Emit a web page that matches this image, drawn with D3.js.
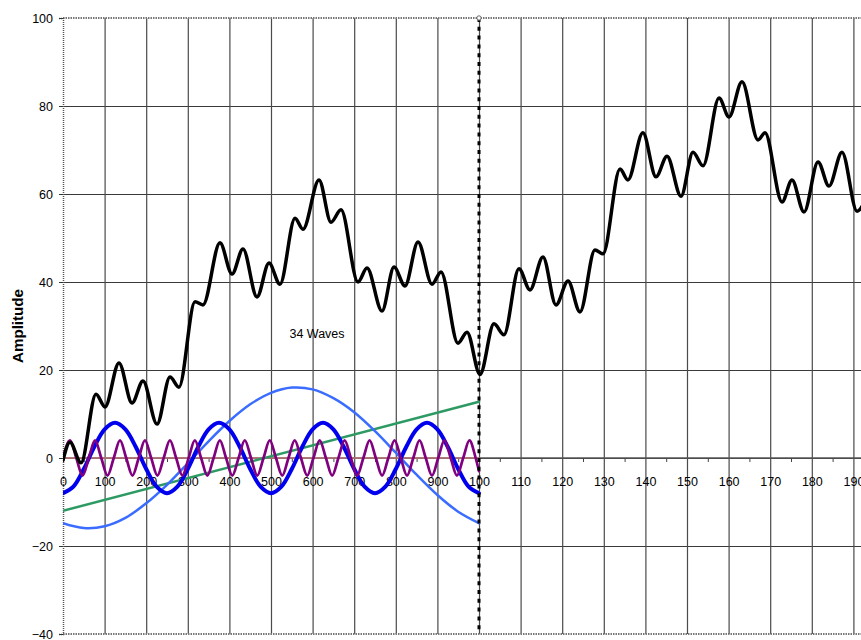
<!DOCTYPE html>
<html>
<head>
<meta charset="utf-8">
<script src="https://cdn.jsdelivr.net/npm/d3@7"></script>
<style>
  html, body { margin: 0; padding: 0; background: #fff; }
  svg { display: block; font-family: "Liberation Sans", Arial, sans-serif; }
</style>
</head>
<body>
<svg id="chart" width="861" height="640"></svg>
<script>
// ---- data ----
// x positions are in "slot" units: 0..1000 = first part (0..1000), 1000..1900 = labels 100..190
const xTickValues = [0,100,200,300,400,500,600,700,800,900,1000,1100,1200,1300,1400,1500,1600,1700,1800,1900];
const xTickLabels = ["0","100","200","300","400","500","600","700","800","900","100","110","120","130","140","150","160","170","180","190"];
const xMinorTicks = [50,150,250,350,450,550,650,750,850,950,1050,1150,1250,1350,1450,1550,1650,1750,1850,1950];
const yTickValues = [-40,-20,0,20,40,60,80,100];

// 34-wave sum (black), extrema
const sumX = [0,16.8,43.3,79.3,101,134.6,165.9,192.3,226,257.2,278.8,317.3,336.5,377.4,406.3,432.7,466.3,495.2,521.6,557.7,576.9,615.4,644.2,668.3,709.1,730.8,766.8,795.7,822.1,853.4,887,908.7,949.5,971.2,1002.4,1036,1060,1096,1122.6,1153.8,1185,1214,1242.8,1278.8,1298,1339,1358,1394,1425.5,1452,1485.6,1514.4,1538.5,1577,1601,1632.2,1670.7,1687.5,1728.4,1752.4,1781.3,1815,1841.3,1872.6,1908.7,1935];
const sumY = [-0.5,3.6,-1.1,14.5,11.6,21.6,12.5,17.5,7.7,18.4,16.1,35.5,34.8,48.9,41.8,47.5,36.6,44.3,39.5,54.5,52.0,63.2,53.6,56.4,40.0,43.2,33.4,43.4,39.1,49.1,39.5,42.3,26.1,28.6,19.0,30.5,28.0,43.0,38.2,45.7,34.8,40.2,33.2,47.3,46.4,65.7,63.2,73.9,63.9,68.6,59.5,69.5,66.4,81.8,77.5,85.5,72.3,73.9,58.2,63.2,55.9,67.3,61.8,69.5,56.1,60.0];

// thick blue wave (every 25 units, 0..1000)
const blueX = d3.range(0, 1001, 25);
const blueY = [-8,-6.5,-2.5,2.5,6.5,8,6.5,2.5,-2.5,-6.5,
               -8,-6.5,-2.5,2.5,6.5,8,6.5,2.5,-2.5,-6.5,
               -8,-6.5,-2.5,2.5,6.5,8,6.5,2.5,-2.5,-6.5,
               -8,-6.5,-2.5,2.5,6.5,8,6.5,2.5,-2.5,-6.5,
               -8];

// purple fast wave (quarter-period points)
const purpleX = [0,17,32,47,62,77,92,107,122,137,152,167,182,197,212,227,242,257,272,287,302,317,332,347,362,377,392,407,422,437,452,467,482,497,512,527,542,557,572,587,602,617,632,647,662,677,692,707,722,737,752,767,782,797,812,827,842,857,872,887,902,917,932,947,962,977,992,1000];
const purpleY = [0,4,0,-4, 0,4,0,-4, 0,4,0,-4, 0,4,0,-4,
                 0,4,0,-4, 0,4,0,-4, 0,4,0,-4, 0,4,0,-4,
                 0,4,0,-4, 0,4,0,-4, 0,4,0,-4, 0,4,0,-4,
                 0,4,0,-4, 0,4,0,-4, 0,4,0,-4, 0,4,0,-4,
                 0,4,0,-3];

// light blue slow wave (every 50 units)
const lightX = d3.range(0, 1001, 50);
const lightY = [-14.8,-15.9,-15.5,-13.6,-10.3,-6.1,-1.2,3.8,8.4,12.2,14.8,16.0,15.6,13.6,10.4,6.1,1.2,-3.8,-8.4,-12.2,-14.8];

// green trend line
const greenX = [0, 1000];
const greenY = [-12, 12.8];

// zero reference line
const zeroX = [0, 1000];
const zeroY = [0, 0];

const dividerX = 1000;
const waveLabel = "34 Waves";
const yTitle = "Amplitude";

// ---- chart ----
const svg = d3.select("#chart");
const W = 861, H = 640;
const x = d3.scaleLinear().domain([0, 2000]).range([63, 895]);
const y = d3.scaleLinear().domain([-40, 100]).range([634, 18]);

svg.append("defs").append("clipPath").attr("id", "clip")
  .append("rect").attr("x", 63).attr("y", 16).attr("width", W - 63).attr("height", 620);

// horizontal gridlines
svg.append("g")
  .attr("transform", `translate(63,0)`)
  .call(d3.axisLeft(y).tickValues([-20,0,20,40,60,80]).tickSize(-(W - 63)).tickFormat(""))
  .call(g => g.select(".domain").remove())
  .call(g => g.selectAll("line").attr("stroke", "#3a3a3a").attr("stroke-width", 1.2));

// vertical gridlines
svg.append("g")
  .attr("transform", `translate(0,18)`)
  .call(d3.axisBottom(x).tickValues(xTickValues.slice(1)).tickSize(616).tickFormat(""))
  .call(g => g.select(".domain").remove())
  .call(g => g.selectAll("line").attr("stroke", "#4a4a4a").attr("stroke-width", 1.2));

// borders (dotted)
svg.append("line").attr("x1", 63).attr("x2", W).attr("y1", 18).attr("y2", 18)
  .attr("stroke", "#777").attr("stroke-width", 2).attr("stroke-dasharray", "1.5,1");
svg.append("line").attr("x1", 63).attr("x2", W).attr("y1", 634).attr("y2", 634)
  .attr("stroke", "#777").attr("stroke-width", 2).attr("stroke-dasharray", "1.5,1");

// y axis
const yAxis = svg.append("g")
  .attr("transform", `translate(63,0)`)
  .call(d3.axisLeft(y).tickValues(yTickValues).tickSize(4).tickPadding(6).tickFormat(d3.format("d")));
yAxis.select(".domain").attr("stroke", "#555").attr("stroke-width", 1.5).attr("stroke-dasharray", "1,1");
yAxis.selectAll("line").attr("stroke", "#333");
yAxis.selectAll("text").attr("font-size", "12.5px").attr("fill", "#000")
  .attr("font-family", "Liberation Sans, Arial, sans-serif");

// x axis along zero
const xAxis = svg.append("g")
  .attr("transform", `translate(0,${y(0)})`)
  .call(d3.axisBottom(x).tickValues(xTickValues).tickSize(0).tickPadding(28)
        .tickFormat((d, i) => xTickLabels[i]));
xAxis.select(".domain").remove();
xAxis.selectAll("text").attr("font-size", "12.5px").attr("fill", "#000")
  .attr("font-family", "Liberation Sans, Arial, sans-serif").attr("dy", "0");
svg.append("line").attr("x1", 63).attr("x2", W).attr("y1", y(0)).attr("y2", y(0))
  .attr("stroke", "#555").attr("stroke-width", 1.5);
svg.append("g")
  .attr("transform", `translate(0,${y(0)})`)
  .call(d3.axisBottom(x).tickValues(xMinorTicks).tickSize(4).tickFormat(""))
  .call(g => g.select(".domain").remove())
  .call(g => g.selectAll("line").attr("stroke", "#444"));

// series
const plot = svg.append("g").attr("clip-path", "url(#clip)");
function drawSeries(xs, ys, color, width, curve) {
  const pts = xs.map((d, i) => [d, ys[i]]);
  plot.append("path")
    .datum(pts)
    .attr("fill", "none")
    .attr("stroke", color)
    .attr("stroke-width", width)
    .attr("stroke-linejoin", "round")
    .attr("stroke-linecap", "round")
    .attr("d", d3.line().x(d => x(d[0])).y(d => y(d[1])).curve(curve));
}
drawSeries(zeroX, zeroY, "#c07878", 1.5, d3.curveLinear);
drawSeries(greenX, greenY, "#2e9a63", 2.5, d3.curveLinear);
drawSeries(lightX, lightY, "#3a6cff", 2.5, d3.curveCatmullRom);
drawSeries(blueX, blueY, "#0000ee", 4, d3.curveCatmullRom);
drawSeries(purpleX, purpleY, "#800080", 2.7, d3.curveMonotoneX);
drawSeries(sumX, sumY, "#000000", 3.5, d3.curveMonotoneX);

// divider
svg.append("line")
  .attr("x1", x(dividerX)).attr("x2", x(dividerX))
  .attr("y1", y(100)).attr("y2", y(-40))
  .attr("stroke", "#000").attr("stroke-width", 3).attr("stroke-dasharray", "4,4.8");
svg.append("circle").attr("cx", x(dividerX)).attr("cy", y(100)).attr("r", 2.2)
  .attr("fill", "#fff").attr("stroke", "#666").attr("stroke-width", 1);

// texts
svg.append("text").attr("x", 317).attr("y", 338).attr("text-anchor", "middle")
  .attr("font-size", "12.5px").attr("fill", "#000").text(waveLabel);
svg.append("text")
  .attr("transform", "translate(23,326) rotate(-90)")
  .attr("text-anchor", "middle").attr("font-size", "14px").attr("font-weight", "bold")
  .attr("textLength", 74).attr("lengthAdjust", "spacingAndGlyphs")
  .attr("fill", "#000").text(yTitle);
</script>
</body>
</html>
